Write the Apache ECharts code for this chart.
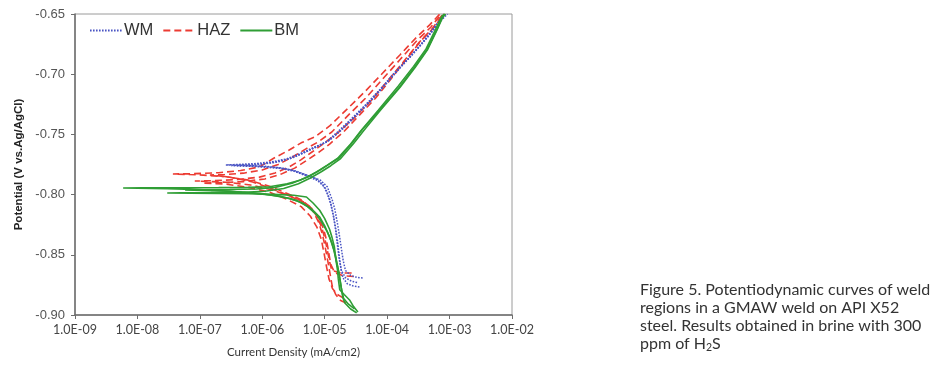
<!DOCTYPE html>
<html>
<head>
<meta charset="utf-8">
<script src="https://cdn.jsdelivr.net/npm/echarts@6/dist/echarts.min.js"></script>
<style>
  html, body { margin: 0; padding: 0; background: #fff; }
  #chart-container { width: 939px; height: 369px; }
</style>
</head>
<body>
<div id="chart-container"></div>
<script>
// each curve: [current density (mA/cm2), potential (V vs Ag/AgCl)], cathodic end -> Ecorr -> anodic end
const wm1 = [[4.05e-5,-0.8693],[3.3e-5,-0.8688],[2.6e-5,-0.8672],[2.15e-5,-0.8630],[1.98e-5,-0.855],[1.85e-5,-0.845],[1.72e-5,-0.834],[1.6e-5,-0.824],[1.45e-5,-0.812],[1.32e-5,-0.8045],[1.1e-5,-0.7935],[8.5e-6,-0.7880],[5.6e-6,-0.7845],[3.5e-6,-0.7805],[2.1e-6,-0.7780],[1.1e-6,-0.7765],[5e-7,-0.7757],[2.6e-7,-0.7754],
  [4e-7,-0.7750],[8e-7,-0.7742],[1.4e-6,-0.7728],[2.4e-6,-0.7705],[4.0e-6,-0.7660],[6.5e-6,-0.7610],[1.05e-5,-0.7565],[1.6e-5,-0.7480],[2.5e-5,-0.7385],[4.4e-5,-0.7260],[7.6e-5,-0.7130],[1.3e-4,-0.6990],[2.3e-4,-0.6857],[3.5e-4,-0.6750],[4.8e-4,-0.6660],[6.5e-4,-0.6570],[8.5e-4,-0.6500]];
const wm2 = [[3.6e-5,-0.8767],[2.9e-5,-0.8760],[2.3e-5,-0.8740],[1.95e-5,-0.869],[1.8e-5,-0.860],[1.7e-5,-0.850],[1.6e-5,-0.838],[1.48e-5,-0.826],[1.34e-5,-0.814],[1.22e-5,-0.805],[1.02e-5,-0.7945],[7.8e-6,-0.7885],[5.1e-6,-0.7845],[3.2e-6,-0.7805],[1.9e-6,-0.7782],[9e-7,-0.7768],[4.5e-7,-0.7762],[3.2e-7,-0.7760],
  [5e-7,-0.7755],[9e-7,-0.7748],[1.6e-6,-0.7730],[2.8e-6,-0.7700],[4.5e-6,-0.7655],[7.2e-6,-0.7605],[1.15e-5,-0.7555],[1.75e-5,-0.7470],[2.7e-5,-0.7375],[4.7e-5,-0.7250],[8.0e-5,-0.7120],[1.35e-4,-0.6985],[2.4e-4,-0.6850],[3.6e-4,-0.6745],[5.0e-4,-0.6655],[6.8e-4,-0.6565],[8.8e-4,-0.6500]];
const wm3 = [[3.3e-5,-0.8730],[2.7e-5,-0.8720],[2.15e-5,-0.8690],[1.85e-5,-0.863],[1.7e-5,-0.853],[1.6e-5,-0.842],[1.5e-5,-0.830],[1.38e-5,-0.818],[1.25e-5,-0.808],[1.12e-5,-0.800],[9.3e-6,-0.7915],[7.1e-6,-0.7865],[4.6e-6,-0.7830],[2.9e-6,-0.7795],[1.7e-6,-0.7775],[8e-7,-0.7765],[4e-7,-0.7760],
  [6e-7,-0.7756],[1.1e-6,-0.7745],[1.9e-6,-0.7725],[3.2e-6,-0.7690],[5e-6,-0.7645],[8e-6,-0.7595],[1.25e-5,-0.7540],[1.9e-5,-0.7460],[3e-5,-0.7360],[5.2e-5,-0.7235],[8.8e-5,-0.7105],[1.45e-4,-0.6975],[2.5e-4,-0.6840],[3.8e-4,-0.6735],[5.3e-4,-0.6645],[7.1e-4,-0.6560],[9.3e-4,-0.6500]];

const haz1 = [[2.7e-5,-0.8651],[1.8e-5,-0.8651],[1.3e-5,-0.8630],[1.2e-5,-0.8560],[1.1e-5,-0.8460],[1.0e-5,-0.8360],[8.9e-6,-0.8270],[7.5e-6,-0.8180],[5.8e-6,-0.8100],[4.1e-6,-0.8040],[2.5e-6,-0.7990],[1.3e-6,-0.7930],[6e-7,-0.7880],[2.5e-7,-0.7850],[9e-8,-0.7835],[3.7e-8,-0.7829],
  [8e-8,-0.7826],[2e-7,-0.7818],[4.5e-7,-0.7800],[9e-7,-0.7770],[1.5e-6,-0.7700],[2.7e-6,-0.7630],[4.2e-6,-0.7570],[7e-6,-0.7520],[1.2e-5,-0.7430],[2.5e-5,-0.7270],[4.5e-5,-0.7140],[8.5e-5,-0.6990],[1.6e-4,-0.6840],[3e-4,-0.6690],[4.8e-4,-0.6590],[7e-4,-0.6500]];
const haz2 = [[2.2e-5,-0.8900],[1.8e-5,-0.8880],[1.5e-5,-0.8830],[1.32e-5,-0.8760],[1.22e-5,-0.8660],[1.12e-5,-0.8550],[1.02e-5,-0.8440],[9.2e-6,-0.8330],[8e-6,-0.8230],[6.4e-6,-0.8130],[4.5e-6,-0.8060],[2.7e-6,-0.8010],[1.4e-6,-0.7950],[7e-7,-0.7895],[3e-7,-0.7855],[1.45e-7,-0.7837],
  [2.5e-7,-0.7833],[5e-7,-0.7822],[1e-6,-0.7795],[1.8e-6,-0.7750],[3e-6,-0.7690],[5e-6,-0.7620],[8e-6,-0.7560],[1.3e-5,-0.7480],[2.5e-5,-0.7330],[4.5e-5,-0.7200],[8.5e-5,-0.7040],[1.6e-4,-0.6880],[3e-4,-0.6720],[5e-4,-0.6610],[7.4e-4,-0.6500]];
const haz3 = [[2.9e-5,-0.8680],[2e-5,-0.8675],[1.45e-5,-0.8650],[1.25e-5,-0.8580],[1.15e-5,-0.8470],[1.06e-5,-0.8370],[9.5e-6,-0.8280],[8.1e-6,-0.8200],[6.4e-6,-0.8120],[4.5e-6,-0.8060],[2.7e-6,-0.8010],[1.4e-6,-0.7960],[6.5e-7,-0.7920],[2.6e-7,-0.7897],[8.3e-8,-0.7887],
  [1.6e-7,-0.7885],[4e-7,-0.7875],[9e-7,-0.7855],[1.6e-6,-0.7820],[2.7e-6,-0.7770],[4.2e-6,-0.7710],[6.5e-6,-0.7640],[1e-5,-0.7570],[1.6e-5,-0.7490],[3e-5,-0.7360],[5.5e-5,-0.7220],[1e-4,-0.7060],[1.8e-4,-0.6900],[3.2e-4,-0.6740],[5.3e-4,-0.6620],[7.8e-4,-0.6500]];
const haz4 = [[2.0e-5,-0.8860],[1.6e-5,-0.8830],[1.33e-5,-0.8780],[1.17e-5,-0.8700],[1.07e-5,-0.8600],[9.7e-6,-0.8480],[8.8e-6,-0.8370],[7.5e-6,-0.8270],[5.9e-6,-0.8180],[4.2e-6,-0.8100],[2.5e-6,-0.8040],[1.3e-6,-0.7980],[6e-7,-0.7940],[2.5e-7,-0.7912],[1.1e-7,-0.7904],
  [2e-7,-0.7902],[5e-7,-0.7892],[1.1e-6,-0.7870],[2e-6,-0.7830],[3.3e-6,-0.7780],[5e-6,-0.7720],[8e-6,-0.7650],[1.2e-5,-0.7580],[2e-5,-0.7480],[3.6e-5,-0.7340],[6.5e-5,-0.7200],[1.15e-4,-0.7040],[2e-4,-0.6880],[3.5e-4,-0.6720],[5.7e-4,-0.6610],[8.2e-4,-0.6500]];

const bm1 = [[3.25e-5,-0.8983],[2.6e-5,-0.8950],[2.1e-5,-0.8900],[1.94e-5,-0.8850],[1.8e-5,-0.8740],[1.68e-5,-0.8640],[1.56e-5,-0.8568],[1.4e-5,-0.8460],[1.2e-5,-0.8352],[1e-5,-0.8260],[8.3e-6,-0.8186],[6.2e-6,-0.8120],[4.4e-6,-0.8070],[2.7e-6,-0.8030],[1.32e-6,-0.8003],[5e-7,-0.7980],[1.5e-7,-0.7962],[3e-8,-0.7950],[5.9e-9,-0.7945],
  [1.2e-8,-0.7944],[5e-8,-0.7943],[2e-7,-0.7942],[6e-7,-0.7940],[1.3e-6,-0.7935],[2.5e-6,-0.7910],[4e-6,-0.7880],[6e-6,-0.7840],[8.5e-6,-0.7795],[1.2e-5,-0.7745],[1.75e-5,-0.7690],[2.8e-5,-0.7565],[4e-5,-0.7460],[7.6e-5,-0.7297],[1.58e-4,-0.7106],[2.75e-4,-0.6940],[4.3e-4,-0.6800],[6.2e-4,-0.6633],[7.7e-4,-0.6525],[8.5e-4,-0.6500]];
const bm2 = [[3.4e-5,-0.8975],[2.9e-5,-0.8930],[2.5e-5,-0.8875],[2.05e-5,-0.8830],[1.74e-5,-0.8790],[1.65e-5,-0.8700],[1.6e-5,-0.8626],[1.5e-5,-0.8530],[1.43e-5,-0.8435],[1.3e-5,-0.8350],[1.2e-5,-0.8290],[1e-5,-0.8200],[8.3e-6,-0.8130],[6.5e-6,-0.8070],[5.1e-6,-0.8020],[3.2e-6,-0.8005],[1.5e-6,-0.7998],[6e-7,-0.7993],[2e-7,-0.7990],[7e-8,-0.7988],[3e-8,-0.7987],
  [5e-8,-0.7986],[1.5e-7,-0.7984],[5e-7,-0.7980],[1.1e-6,-0.7972],[2.2e-6,-0.7950],[3.8e-6,-0.7910],[6e-6,-0.7860],[8.8e-6,-0.7810],[1.25e-5,-0.7760],[1.8e-5,-0.7700],[2.9e-5,-0.7575],[4.2e-5,-0.7470],[7.8e-5,-0.7300],[1.6e-4,-0.7110],[2.8e-4,-0.6945],[4.4e-4,-0.6800],[6.3e-4,-0.6633],[7.8e-4,-0.6525],[8.6e-4,-0.6500]];
const bm3 = [[3e-5,-0.8950],[2.4e-5,-0.8910],[2e-5,-0.8860],[1.85e-5,-0.8780],[1.72e-5,-0.8680],[1.6e-5,-0.8590],[1.48e-5,-0.8500],[1.3e-5,-0.8400],[1.1e-5,-0.8310],[9e-6,-0.8230],[7.2e-6,-0.8160],[5.3e-6,-0.8100],[3.6e-6,-0.8050],[2e-6,-0.8015],[9e-7,-0.7990],[3e-7,-0.7972],[1.1e-7,-0.7965],[5.8e-8,-0.7962],
  [1e-7,-0.7961],[3e-7,-0.7958],[8e-7,-0.7953],[1.6e-6,-0.7940],[3e-6,-0.7905],[5e-6,-0.7860],[7.5e-6,-0.7810],[1.1e-5,-0.7755],[1.6e-5,-0.7700],[2.6e-5,-0.7580],[3.8e-5,-0.7470],[7.2e-5,-0.7300],[1.5e-4,-0.7100],[2.65e-4,-0.6935],[4.2e-4,-0.6790],[6e-4,-0.6625],[7.5e-4,-0.6520],[8.2e-4,-0.6500]];

const legendNames = ['WM', 'HAZ', 'BM'];
const captionLines = [
  'Figure 5. Potentiodynamic curves of weld',
  'regions in a GMAW weld on API X52',
  'steel. Results obtained in brine with 300',
  'ppm of H{sub|2}S'
];

var dom = document.getElementById('chart-container');
var myChart = echarts.init(dom, null, { renderer: 'canvas' });

function curve(name, data, color, type, width) {
  return {
    name: name,
    type: 'line',
    data: data,
    symbol: 'none',
    showSymbol: false,
    animation: false,
    lineStyle: { color: color, type: type, width: width },
    itemStyle: { color: color }
  };
}

const blue = '#4a55c4', red = '#ec3b32', green = '#2f9e35';

var option = {
  animation: false,
  grid: { left: 75, right: 427, top: 14, bottom: 54, show: true, borderColor: '#9a9a9a', borderWidth: 1 },
  legend: {
    data: legendNames,
    left: 84, top: 17,
    itemWidth: 32, itemHeight: 10, itemGap: 9,
    itemStyle: { opacity: 0 },
    textStyle: { fontSize: 16.5, color: '#333', fontFamily: 'Liberation Sans', padding: [0, 0, 0, -3] }
  },
  xAxis: {
    type: 'log', logBase: 10, min: 1e-9, max: 1e-2, splitNumber: 7,
    name: 'Current Density (mA/cm2)', nameLocation: 'middle', nameGap: 31,
    nameTextStyle: { fontSize: 11.5, color: '#333', fontFamily: 'Lato' },
    axisLine: { lineStyle: { color: '#6e6e6e', width: 1.5 } },
    axisTick: { show: true, inside: false, length: 4, lineStyle: { color: '#6e6e6e' } },
    minorTick: { show: false },
    splitLine: { show: false },
    axisLabel: {
      color: '#444', fontSize: 12.5, fontFamily: 'Lato', margin: 8,
      formatter: function (v) {
        var e = Math.round(Math.log10(v));
        return '1.0E' + (e < 0 ? '-' : '+') + String(Math.abs(e)).padStart(2, '0');
      }
    }
  },
  yAxis: {
    type: 'value', min: -0.9, max: -0.65, interval: 0.05,
    name: 'Potential (V vs.Ag/AgCl)', nameLocation: 'middle', nameRotate: 90, nameGap: 50,
    nameTextStyle: { fontSize: 11.5, color: '#222', fontFamily: 'Liberation Sans', fontWeight: 'bold' },
    axisLine: { show: true, lineStyle: { color: '#6e6e6e', width: 1.5 } },
    axisTick: { show: true, length: 4, lineStyle: { color: '#6e6e6e' } },
    splitLine: { show: false },
    axisLabel: {
      color: '#555', fontSize: 13, fontFamily: 'Liberation Sans', margin: 10,
      formatter: function (v) { return v.toFixed(2); }
    }
  },
  graphic: [{
    type: 'text', left: 640, top: 281,
    style: {
      text: captionLines.join('\n'),
      font: '16px Lato', fill: '#333', lineHeight: 18,
      rich: { sub: { fontSize: 10.5, fontFamily: 'Lato', fill: '#333', padding: [7, 0, 0, 0] } }
    }
  }],
  series: [
    curve('HAZ', haz1, red, [7, 4], 1.6),
    curve('HAZ', haz2, red, [7, 4], 1.6),
    curve('HAZ', haz3, red, [7, 4], 1.6),
    curve('HAZ', haz4, red, [7, 4], 1.6),
    curve('WM', wm1, blue, [1.6, 1.4], 1.5),
    curve('WM', wm2, blue, [1.6, 1.4], 1.5),
    curve('WM', wm3, blue, [1.6, 1.4], 1.5),
    curve('BM', bm1, green, 'solid', 1.6),
    curve('BM', bm2, green, 'solid', 1.6),
    curve('BM', bm3, green, 'solid', 1.6)
  ]
};

if (option && typeof option === 'object') {
  myChart.setOption(option);
}

window.addEventListener('resize', myChart.resize);
</script>
</body>
</html>
